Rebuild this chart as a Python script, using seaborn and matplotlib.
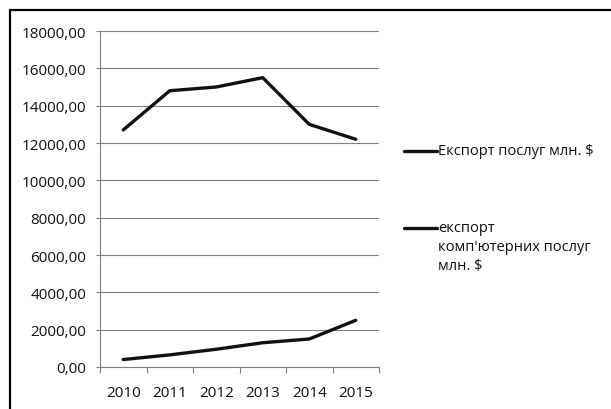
import matplotlib
matplotlib.use("Agg")
import matplotlib.pyplot as plt
import seaborn as sns
import pandas as pd
from matplotlib.lines import Line2D
from matplotlib.ticker import FuncFormatter

years = ["2010", "2011", "2012", "2013", "2014", "2015"]
services_export = [12700, 14800, 15000, 15500, 13000, 12200]
computer_export = [400, 650, 950, 1300, 1500, 2500]
series_labels = ["Експорт послуг млн. $", "експорт\nкомп'ютерних послуг\nмлн. $"]
y_ticks = [0, 2000, 4000, 6000, 8000, 10000, 12000, 14000, 16000, 18000]

sns.set_theme(style="white")
plt.rcParams["font.family"] = ["Open Sans", "DejaVu Sans"]

df = pd.DataFrame({
    "year": years * 2,
    "value": services_export + computer_export,
    "series": [series_labels[0]] * len(years) + [series_labels[1]] * len(years),
})

W, H = 611, 410
fig = plt.figure(figsize=(W / 100, H / 100), dpi=100)
ax = fig.add_axes([100 / W, 1 - 368 / H, (379 - 100) / W, (368 - 32) / H])

sns.lineplot(data=df, x="year", y="value", hue="series",
             palette=["#111111", "#111111"], linewidth=2.4, ax=ax,
             legend=False, sort=False)

ax.set_xlim(-0.5, len(years) - 0.5)
ax.set_ylim(0, 18000)
ax.set_yticks(y_ticks)
ax.yaxis.set_major_formatter(FuncFormatter(lambda v, p: f"{v:.2f}".replace(".", ",")))
ax.set_xticks([i - 0.5 for i in range(len(years) + 1)])
ax.set_xticklabels([])
ax.set_xticks(list(range(len(years))), minor=True)
ax.set_xticklabels(years, minor=True)
ax.tick_params(axis="x", which="major", length=4, width=0.8, color="#808080", direction="out", bottom=True)
ax.tick_params(axis="x", which="minor", length=0, pad=13, labelsize=11, labelcolor="#111111")
ax.tick_params(axis="y", length=3, width=0.8, color="#808080", direction="out", left=True, pad=7,
               labelsize=11, labelcolor="#111111")
ax.set_xlabel("")
ax.set_ylabel("")
ax.grid(axis="y", color="#808080", linewidth=0.8)
ax.grid(axis="x", visible=False)
for s in ["top", "right"]:
    ax.spines[s].set_visible(False)
for s in ["left", "bottom"]:
    ax.spines[s].set_color("#808080")
    ax.spines[s].set_linewidth(0.8)

# legend
leg_y = [152, 229]
for lab, yy in zip(series_labels, leg_y):
    fy = 1 - yy / H
    fig.add_artist(Line2D([404 / W, 437 / W], [fy, fy], color="#111111", linewidth=2.4,
                          transform=fig.transFigure))
    fig.text(438 / W, fy + 8 / H, lab, ha="left", va="top", fontsize=10.5, color="#111111",
             linespacing=1.35)

# outer frame (left and top edges)
fig.add_artist(Line2D([10 / W, 10 / W], [0, 1 - 11 / H], color="black", linewidth=1.6,
                      transform=fig.transFigure))
fig.add_artist(Line2D([10 / W, 1], [1 - 11 / H, 1 - 11 / H], color="black", linewidth=1.6,
                      transform=fig.transFigure))

fig.savefig("out.png", dpi=100)
